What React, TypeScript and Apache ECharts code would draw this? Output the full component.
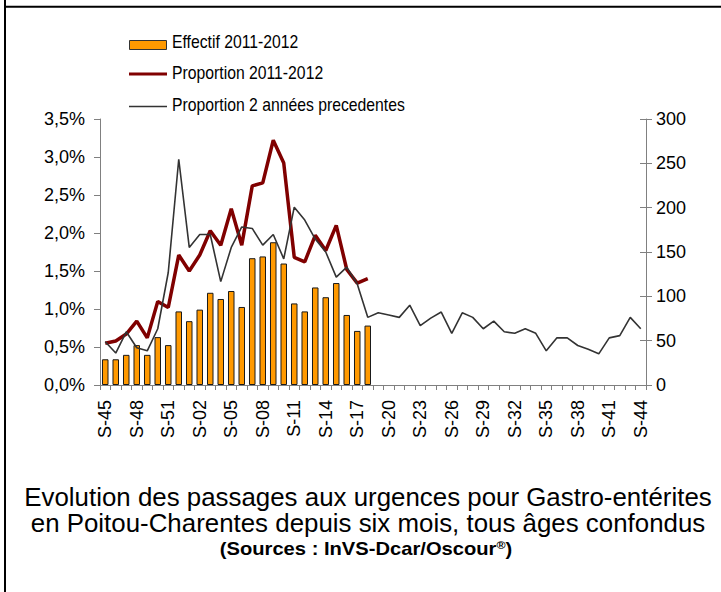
import React, { useEffect, useRef } from "react";
import * as echarts from "echarts";

const categories = [
  "S-45","S-46","S-47","S-48","S-49","S-50","S-51","S-52",
  "S-01","S-02","S-03","S-04","S-05","S-06","S-07","S-08","S-09","S-10",
  "S-11","S-12","S-13","S-14","S-15","S-16","S-17","S-18","S-19","S-20",
  "S-21","S-22","S-23","S-24","S-25","S-26","S-27","S-28","S-29","S-30",
  "S-31","S-32","S-33","S-34","S-35","S-36","S-37","S-38","S-39","S-40",
  "S-41","S-42","S-43","S-44"
];

const effectif20112012 = [29,29,34,45,34,54,45,83,72,85,104,97,106,88,143,145,161,137,92,83,110,99,115,79,61,67];

const proportion20112012 = [0.55,0.58,0.67,0.84,0.62,1.10,1.02,1.71,1.50,1.71,2.03,1.84,2.32,1.84,2.62,2.66,3.22,2.92,1.68,1.62,1.97,1.77,2.10,1.52,1.34,1.40];

const proportion2Annees = [0.57,0.42,0.70,0.49,0.45,0.74,1.48,2.97,1.81,1.98,1.98,1.36,1.81,2.08,2.06,1.84,1.98,1.66,2.34,2.17,1.92,1.75,1.42,1.55,1.33,0.89,0.95,0.92,0.89,1.05,0.78,0.88,0.96,0.68,0.95,0.89,0.74,0.84,0.70,0.68,0.74,0.68,0.45,0.62,0.62,0.52,0.47,0.41,0.62,0.65,0.89,0.74];

const seriesNames = ["Effectif 2011-2012", "Proportion 2011-2012", "Proportion 2 années precedentes"];
const titleLines = [
  "Evolution des passages aux urgences pour Gastro-entérites",
  "en Poitou-Charentes depuis six mois, tous âges confondus",
];
const sourceText = "(Sources : InVS-Dcar/Oscour";

const FONT = "'Liberation Sans', Arial, sans-serif";

export default function App() {
  const ref = useRef<HTMLDivElement>(null);
  useEffect(() => {
    if (!ref.current) return;
    const chart = echarts.init(ref.current, null, { renderer: "svg" });
    const axisColor = "#808080";
    const legendText = (text: string, y: number) => ({
      type: "text",
      x: 172,
      y,
      scaleX: 0.875,
      style: { text, fontSize: 18, fontFamily: FONT, fill: "#000", verticalAlign: "middle" },
    });
    const titleText = (text: string, y: number) => ({
      type: "text",
      x: 368,
      y,
      scaleX: 1.035,
      style: { text, fontSize: 25, lineHeight: 25, fontFamily: FONT, fill: "#000", align: "center", verticalAlign: "middle" },
    });
    chart.setOption({
      animation: false,
      backgroundColor: "#fff",
      textStyle: { fontFamily: FONT },
      grid: { left: 100, right: 75, top: 119, bottom: 207, containLabel: false },
      xAxis: {
        type: "category",
        data: categories,
        boundaryGap: true,
        axisLine: { lineStyle: { color: axisColor, width: 1 } },
        axisTick: { show: true, interval: 0, length: 5, lineStyle: { color: axisColor } },
        axisLabel: {
          interval: 2,
          rotate: 90,
          fontSize: 18,
          color: "#000",
          fontFamily: FONT,
          margin: 15,
        },
        splitLine: { show: false },
      },
      yAxis: [
        {
          type: "value",
          min: 0,
          max: 3.5,
          interval: 0.5,
          position: "left",
          axisLine: { show: true, lineStyle: { color: axisColor } },
          axisTick: { show: true, length: 6, lineStyle: { color: axisColor } },
          axisLabel: {
            fontSize: 18,
            color: "#000",
            fontFamily: FONT,
            margin: 15,
            formatter: (v: number) => v.toFixed(1).replace(".", ",") + "%",
          },
          splitLine: { show: false },
        },
        {
          type: "value",
          min: 0,
          max: 300,
          interval: 50,
          position: "right",
          axisLine: { show: true, lineStyle: { color: axisColor } },
          axisTick: { show: true, length: 6, lineStyle: { color: axisColor } },
          axisLabel: { fontSize: 18, color: "#000", fontFamily: FONT, margin: 10 },
          splitLine: { show: false },
        },
        {
          type: "value",
          min: 0,
          max: 300,
          interval: 50,
          position: "right",
          axisLine: { show: false },
          axisTick: { show: true, inside: true, length: 6, lineStyle: { color: axisColor } },
          axisLabel: { show: false },
          splitLine: { show: false },
        },
      ],
      series: [
        {
          name: seriesNames[0],
          type: "bar",
          yAxisIndex: 1,
          data: effectif20112012,
          barWidth: "62%",
          itemStyle: { color: "#FF9900", borderColor: "#1a1a1a", borderWidth: 1 },
        },
        {
          name: seriesNames[1],
          type: "line",
          yAxisIndex: 0,
          data: proportion20112012,
          symbol: "none",
          lineStyle: { color: "#800000", width: 3.5 },
          itemStyle: { color: "#800000" },
        },
        {
          name: seriesNames[2],
          type: "line",
          yAxisIndex: 0,
          data: proportion2Annees,
          symbol: "none",
          lineStyle: { color: "#333333", width: 1.6 },
          itemStyle: { color: "#333333" },
        },
      ],
      graphic: [
        { type: "line", shape: { x1: 5, y1: 0, x2: 5, y2: 592 }, style: { stroke: "#000", lineWidth: 2 } },
        { type: "line", shape: { x1: 4, y1: 6.7, x2: 721, y2: 6.7 }, style: { stroke: "#000", lineWidth: 2 } },
        { type: "rect", shape: { x: 129.5, y: 40.5, width: 37, height: 9 }, style: { fill: "#FF9900", stroke: "#333", lineWidth: 1 } },
        legendText(seriesNames[0], 42),
        { type: "line", shape: { x1: 129, y1: 74, x2: 167, y2: 74 }, style: { stroke: "#800000", lineWidth: 3 } },
        legendText(seriesNames[1], 73.5),
        { type: "line", shape: { x1: 129, y1: 106.5, x2: 167, y2: 106.5 }, style: { stroke: "#333", lineWidth: 1.5 } },
        legendText(seriesNames[2], 105.5),
        titleText(titleLines[0], 497),
        titleText(titleLines[1], 523),
        {
          type: "text",
          x: 366,
          y: 549,
          scaleX: 1.12,
          style: {
            text: "{a|" + sourceText + "}{s|®}{a|)}",
            align: "center",
            verticalAlign: "middle",
            rich: {
              a: { fontSize: 18, fontWeight: "bold", fontFamily: FONT, color: "#000" },
              s: { fontSize: 11, fontWeight: "bold", fontFamily: FONT, color: "#000", verticalAlign: "top", padding: [0, 0, 9, 0] },
            },
          },
        },
      ],
    });
    return () => chart.dispose();
  }, []);
  return (
    <div
      ref={ref}
      style={{ position: "fixed", left: 0, top: 0, width: 721, height: 592 }}
    />
  );
}
